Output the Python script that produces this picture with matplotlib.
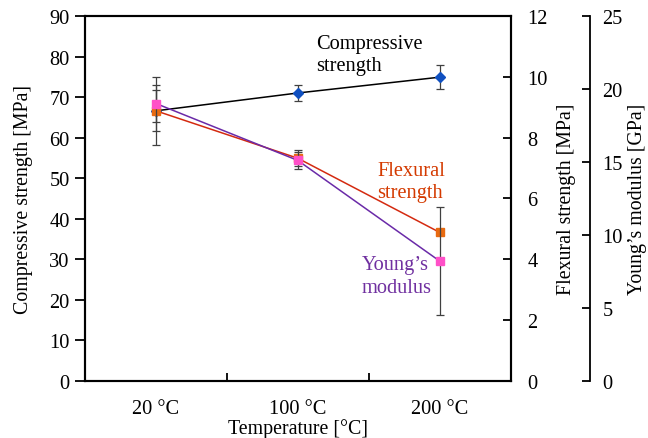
import numpy as np
import matplotlib.pyplot as plt

plt.rcParams['font.family'] = ['Liberation Serif', 'DejaVu Serif']
plt.rcParams['font.size'] = 14.7

temps = ['20 °C', '100 °C', '200 °C']

comp = [66.6, 71.0, 74.9]
comp_err = [8.4, 1.9, 2.9]
flex = [8.88, 7.32, 4.88]
flex_err = [0.67, 0.27, 0.1]
young = [19.0, 15.1, 8.2]
young_err = [1.3, 0.6, 3.7]

x = np.arange(len(temps))

fig = plt.figure(figsize=(6.48, 4.39), dpi=100)
ax = fig.add_axes([0.1312, 0.1305, 0.6568, 0.8308])
ax2 = ax.twinx()
ax3 = ax.twinx()
ax3.spines['right'].set_position(('axes', 1.186))
for s in ['top', 'left', 'bottom']:
    ax3.spines[s].set_visible(False)

ebkw = dict(ecolor='#404040', elinewidth=0.9, capsize=3, capthick=0.9)

ax.errorbar(x, comp, yerr=comp_err, color='black', lw=1.1, marker='D',
            ms=5.5, mfc='#1050c0', mec='#1050c0', zorder=3, **ebkw)
ax2.errorbar(x, flex, yerr=flex_err, color='#d42a10', lw=1.1, marker='s',
             ms=5.5, mfc='#e86a10', mec='#e86a10', zorder=3, **ebkw)
ax3.errorbar(x, young, yerr=young_err, color='#6a2aa8', lw=1.1, marker='s',
             ms=5.5, mfc='#ff50c8', mec='#ff50c8', zorder=3, **ebkw)

ax.set_xlim(-0.5, 2.5)
ax.set_ylim(0, 90)
ax.set_yticks(np.arange(0, 91, 10))
ax2.set_ylim(0, 12)
ax2.set_yticks(np.arange(0, 13, 2))
ax3.set_ylim(0, 25)
ax3.set_yticks(np.arange(0, 26, 5))

ax.set_xticks(x)
ax.set_xticklabels(temps)
ax.set_xticks([0.5, 1.5], minor=True)
ax.tick_params(axis='x', which='major', length=0, pad=13)
ax.tick_params(axis='x', which='minor', direction='in', length=6, width=1.3)
ax.tick_params(axis='y', direction='out', length=7, width=1.3, pad=4)
ax2.tick_params(axis='y', direction='in', length=6, width=1.3, pad=12)
ax3.tick_params(axis='y', direction='in', length=6, width=1.3, pad=9)

for a in (ax, ax2):
    for s in a.spines.values():
        s.set_linewidth(1.5)
ax3.spines['right'].set_linewidth(1.3)

lab = dict(fontsize=14.3)
ax.set_xlabel('Temperature [°C]', labelpad=0, **lab)
ax.set_ylabel('Compressive strength [MPa]', labelpad=12, **lab)
ax2.set_ylabel('Flexural strength [MPa]', labelpad=7, **lab)
ax3.set_ylabel('Young\u2019s modulus [GPa]', labelpad=4, **lab)

ax.text(1.13, 80.5, 'Compressive\nstrength', color='black', ha='left',
        va='center', linespacing=1.25)
ax.text(1.56, 49.2, 'Flexural\nstrength', color='#d43a00', ha='left',
        va='center', linespacing=1.25)
ax.text(1.45, 25.8, 'Young\u2019s\nmodulus', color='#7030a0', ha='left',
        va='center', linespacing=1.25)

fig.savefig('out.png', dpi=100)
